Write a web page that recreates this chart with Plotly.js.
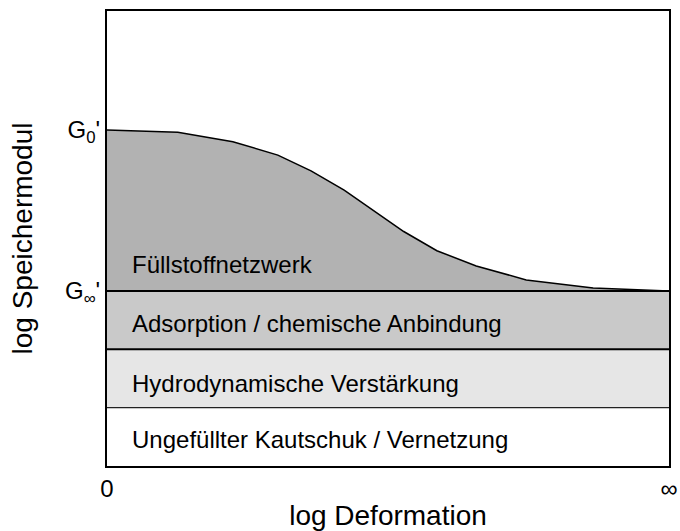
<!DOCTYPE html>
<html>
<head>
<meta charset="utf-8">
<script src="https://cdn.plot.ly/plotly-3.0.1.min.js"></script>
<style>html,body{margin:0;padding:0;background:#fff;}#chart{width:680px;height:531px;}</style>
</head>
<body>
<div id="chart"></div>
<script>
// Curve: Füllstoffnetzwerk contribution (log storage modulus vs log deformation)
var curveX = [0, 0.126, 0.224, 0.304, 0.363, 0.422, 0.528, 0.587, 0.657, 0.746, 0.865, 1];
var curveY = [5.76, 5.72, 5.56, 5.33, 5.06, 4.73, 4.02, 3.69, 3.43, 3.19, 3.05, 3.0];
// band boundaries (bottom to top)
var bandLevels = [0, 1, 2, 3];
var bandLabels = ["Ungefüllter Kautschuk / Vernetzung", "Hydrodynamische Verstärkung", "Adsorption / chemische Anbindung", "Füllstoffnetzwerk"];
var xTickVals = [0, 1];
var xTickText = ["0", "∞"];
var yTickText = ["G<sub>0</sub>'", "G<sub>∞</sub>'"];

var xs = [0, 1];
var traces = [
  {x: xs, y: [bandLevels[1], bandLevels[1]], mode: 'lines', line: {color: '#222', width: 1.2}, hoverinfo: 'skip'},
  {x: xs, y: [bandLevels[2], bandLevels[2]], mode: 'lines', fill: 'tonexty', fillcolor: '#e6e6e6', line: {color: '#000', width: 2}, hoverinfo: 'skip'},
  {x: xs, y: [bandLevels[3], bandLevels[3]], mode: 'lines', fill: 'tonexty', fillcolor: '#c9c9c9', line: {color: '#000', width: 2}, hoverinfo: 'skip'},
  {x: curveX, y: curveY, mode: 'lines', fill: 'tonexty', fillcolor: '#b2b2b2', line: {color: '#000', width: 1.5}, hoverinfo: 'skip'},
  {x: xs, y: [bandLevels[3], bandLevels[3]], mode: 'lines', line: {color: '#000', width: 2}, hoverinfo: 'skip'}
];

var labelY = [0.45, 1.42, 2.44, 3.45];
var annotations = bandLabels.map(function(t, i) {
  return {x: 0.041, y: labelY[i], xref: 'x', yref: 'y', text: t, showarrow: false, xanchor: 'left', yanchor: 'middle', font: {size: 24, color: '#000'}};
});

var layout = {
  width: 680, height: 531,
  margin: {l: 107, r: 11, t: 11, b: 65},
  paper_bgcolor: '#fff', plot_bgcolor: '#fff',
  showlegend: false,
  font: {family: 'Liberation Sans, Arial, sans-serif', color: '#000'},
  xaxis: {
    range: [0, 1], showgrid: false, zeroline: false, showline: true, mirror: true, linecolor: '#000', linewidth: 2,
    tickvals: xTickVals, ticktext: xTickText, ticks: '', tickfont: {size: 24},
    title: {text: 'log Deformation', font: {size: 28}, standoff: 6}
  },
  yaxis: {
    range: [0, 7.8], showgrid: false, zeroline: false, showline: true, mirror: true, linecolor: '#000', linewidth: 2,
    tickvals: [curveY[0], bandLevels[3]], ticktext: yTickText, ticks: '', tickfont: {size: 24},
    title: {text: 'log Speichermodul', font: {size: 28}, standoff: 24}
  },
  annotations: annotations
};

Plotly.newPlot('chart', traces, layout, {staticPlot: true, displayModeBar: false});
</script>
</body>
</html>
